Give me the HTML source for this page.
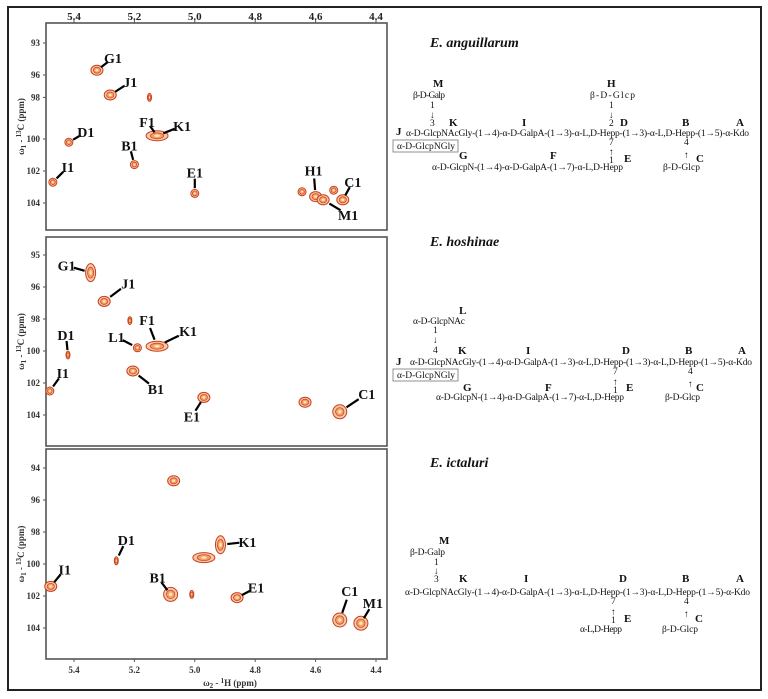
<!DOCTYPE html>
<html><head><meta charset="utf-8"><style>
html,body{margin:0;padding:0;background:#fff;}
svg{display:block;font-family:"Liberation Serif",serif;}
.tk{font-weight:bold;font-size:11px;fill:#222;}
.yt{font-weight:bold;font-size:9px;fill:#333;}
.lb{font-weight:bold;font-size:14px;fill:#111;}
.st{font-size:9.5px;fill:#111;}
.sl{font-weight:bold;font-size:11px;fill:#111;}
.ti{font-weight:bold;font-style:italic;font-size:14px;fill:#111;}
</style></head><body>
<svg id="fig" width="768" height="699" viewBox="0 0 768 699">
<rect x="8" y="7" width="753" height="683" fill="none" stroke="#222" stroke-width="2"/>
<g id="panels"></g>
<g id="axes"></g>
<g id="structs">
<text x="430" y="47" class="ti">E. anguillarum</text>
<text x="430" y="246" class="ti">E. hoshinae</text>
<text x="430" y="467" class="ti">E. ictaluri</text>
<g>
<text x="433" y="87" class="sl">M</text><text x="413" y="98" class="st" textLength="32">β-D-Galp</text>
<text x="430" y="108" class="st">1</text><text x="430" y="118" class="st">↓</text><text x="430" y="126" class="st">3</text>
<text x="449" y="126" class="sl">K</text><text x="522" y="126" class="sl">I</text>
<text x="607" y="87" class="sl">H</text><text x="590" y="98" class="st" textLength="45">β-D-Glcp</text>
<text x="609" y="108" class="st">1</text><text x="609" y="118" class="st">↓</text><text x="609" y="126" class="st">2</text>
<text x="620" y="126" class="sl">D</text><text x="682" y="126" class="sl">B</text><text x="736" y="126" class="sl">A</text>
<text x="396" y="135" class="sl">J</text>
<text x="406" y="136" class="st" textLength="343">α-D-GlcpNAcGly-(1→4)-α-D-GalpA-(1→3)-α-L,D-Hepp-(1→3)-α-L,D-Hepp-(1→5)-α-Kdo</text>
<rect x="393" y="140" width="65" height="12" fill="none" stroke="#777" stroke-width="0.8"/>
<text x="397" y="149" class="st" textLength="58">α-D-GlcpNGly</text>
<text x="609" y="145" class="st">7</text><text x="609" y="155" class="st">↑</text><text x="609" y="163" class="st">1</text>
<text x="684" y="145" class="st">4</text><text x="684" y="158" class="st">↑</text>
<text x="459" y="159" class="sl">G</text><text x="550" y="159" class="sl">F</text><text x="624" y="162" class="sl">E</text><text x="696" y="162" class="sl">C</text>
<text x="432" y="170" class="st" textLength="191">α-D-GlcpN-(1→4)-α-D-GalpA-(1→7)-α-L,D-Hepp</text>
<text x="663" y="170" class="st" textLength="37">β-D-Glcp</text>
</g>
<g>
<text x="459" y="314" class="sl">L</text><text x="413" y="324" class="st" textLength="52">α-D-GlcpNAc</text>
<text x="433" y="333" class="st">1</text><text x="433" y="343" class="st">↓</text><text x="433" y="353" class="st">4</text>
<text x="458" y="354" class="sl">K</text><text x="526" y="354" class="sl">I</text>
<text x="622" y="354" class="sl">D</text><text x="685" y="354" class="sl">B</text><text x="738" y="354" class="sl">A</text>
<text x="396" y="365" class="sl">J</text>
<text x="410" y="365" class="st" textLength="342">α-D-GlcpNAcGly-(1→4)-α-D-GalpA-(1→3)-α-L,D-Hepp-(1→3)-α-L,D-Hepp-(1→5)-α-Kdo</text>
<rect x="393" y="369" width="65" height="12" fill="none" stroke="#777" stroke-width="0.8"/>
<text x="397" y="378" class="st" textLength="58">α-D-GlcpNGly</text>
<text x="613" y="374" class="st">7</text><text x="613" y="385" class="st">↑</text><text x="613" y="393" class="st">1</text>
<text x="688" y="374" class="st">4</text><text x="688" y="387" class="st">↑</text>
<text x="463" y="391" class="sl">G</text><text x="545" y="391" class="sl">F</text><text x="626" y="391" class="sl">E</text><text x="696" y="391" class="sl">C</text>
<text x="436" y="400" class="st" textLength="188">α-D-GlcpN-(1→4)-α-D-GalpA-(1→7)-α-L,D-Hepp</text>
<text x="665" y="400" class="st" textLength="35">β-D-Glcp</text>
</g>
<g>
<text x="439" y="544" class="sl">M</text><text x="410" y="555" class="st" textLength="35">β-D-Galp</text>
<text x="434" y="565" class="st">1</text><text x="434" y="574" class="st">↓</text><text x="434" y="582" class="st">3</text>
<text x="459" y="582" class="sl">K</text><text x="524" y="582" class="sl">I</text>
<text x="619" y="582" class="sl">D</text><text x="682" y="582" class="sl">B</text><text x="736" y="582" class="sl">A</text>
<text x="405" y="595" class="st" textLength="345">α-D-GlcpNAcGly-(1→4)-α-D-GalpA-(1→3)-α-L,D-Hepp-(1→3)-α-L,D-Hepp-(1→5)-α-Kdo</text>
<text x="611" y="604" class="st">7</text><text x="611" y="615" class="st">↑</text><text x="611" y="623" class="st">1</text>
<text x="684" y="604" class="st">4</text><text x="684" y="617" class="st">↑</text>
<text x="624" y="622" class="sl">E</text><text x="695" y="622" class="sl">C</text>
<text x="580" y="632" class="st" textLength="42">α-L,D-Hepp</text>
<text x="662" y="632" class="st" textLength="36">β-D-Glcp</text>
</g>
</g>
</svg>
<script>
// ---- data ----
const xTicks = [5.4, 5.2, 5.0, 4.8, 4.6, 4.4];
const xTickLabels = ["5.4", "5.2", "5.0", "4.8", "4.6", "4.4"];
const y1TickVals = [94, 96, 97.4, 100, 102, 104];
const y1TickLabels = ["93", "96", "98", "100", "102", "104"];
const y2TickVals = [94, 96, 98, 100, 102, 104];
const y2TickLabels = ["95", "96", "98", "100", "102", "104"];
const y3TickVals = [94, 96, 98, 100, 102, 104];
const y3TickLabels = ["94", "96", "98", "100", "102", "104"];

const p1Labels = ["G1","J1","","F1/K1","D1","B1","I1","E1","","H1","M1","","C1"];
const p1H = [5.324, 5.28, 5.15, 5.125, 5.417, 5.20, 5.47, 5.0, 4.645, 4.60, 4.575, 4.54, 4.51];
const p1C = [95.7, 97.25, 97.4, 99.8, 100.2, 101.6, 102.7, 103.4, 103.3, 103.6, 103.8, 103.2, 103.8];
const p1Size = ["md","md","xs","wide","sm","sm","sm","sm","sm","md","md","sm","md"];
const p2Labels = ["G1","J1","","L1","F1/K1","D1","I1","B1","E1","","C1"];
const p2H = [5.345, 5.30, 5.215, 5.19, 5.125, 5.42, 5.48, 5.205, 4.97, 4.635, 4.52];
const p2C = [95.1, 96.9, 98.1, 99.8, 99.7, 100.25, 102.5, 101.25, 102.9, 103.2, 103.8];
const p2Size = ["tall","md","xs","sm","wide","xs","sm","md","md","md","lg"];
const p3Labels = ["","D1","I1","B1","","","K1","E1","C1","M1"];
const p3H = [5.07, 5.26, 5.477, 5.08, 5.01, 4.97, 4.915, 4.86, 4.52, 4.45];
const p3C = [94.8, 99.8, 101.4, 101.9, 101.9, 99.6, 98.8, 102.1, 103.5, 103.7];
const p3Size = ["md","xs","md","lg","xs","wide","tall","md","lg","lg"];

const NS = "http://www.w3.org/2000/svg";
const panelsG = document.getElementById("panels");
const axesG = document.getElementById("axes");
const PL = 46, PR = 387;
function xs(v){ return 74 + (5.4 - v) * 302; }
const panels = [
  {top:23, bot:230, y100:139, ppm:16, labels:p1Labels, H:p1H, C:p1C, size:p1Size, tv:y1TickVals, tl:y1TickLabels, name:"anguillarum",
   offs:[[16,-12],[20,-13],null,[[-10,-14],[25,-10]],[17,-10],[-5,-19],[15,-15],[0,-21],null,[-2,-26],[25,15],null,[10,-18]]},
  {top:237, bot:446, y100:351, ppm:16, labels:p2Labels, H:p2H, C:p2C, size:p2Size, tv:y2TickVals, tl:y2TickLabels, name:"hoshinae",
   offs:[[-24,-7],[24,-18],null,[-21,-11],[[-10,-26],[31,-15]],[-2,-20],[13,-18],[23,18],[-12,19],null,[27,-18]]},
  {top:449, bot:659, y100:564, ppm:16, labels:p3Labels, H:p3H, C:p3C, size:p3Size, tv:y3TickVals, tl:y3TickLabels, name:"ictaluri",
   offs:[null,[10,-21],[14,-17],[-13,-17],null,null,[27,-3],[19,-10],[10,-29],[12,-20]]}
];
const sizes = {xs:[2,4], sm:[4,4], md:[6,5], lg:[7,7], wide:[11,5], tall:[5,9]};

function mk(tag, attrs, parent){
  const e = document.createElementNS(NS, tag);
  for (const k in attrs) e.setAttribute(k, attrs[k]);
  parent.appendChild(e);
  return e;
}

panels.forEach((p, pi) => {
  const ys = c => p.y100 + (c - 100) * p.ppm;
  const g = mk("g", {}, panelsG);
  
  
  const fr = mk("rect", {x:PL, y:p.top, width:PR-PL, height:p.bot-p.top, fill:"#fff", stroke:"#555", "stroke-width":1.6}, g);
  
  
  p.tv.forEach((v, i) => {
    const y = ys(v);
    mk("line", {x1:PL-3, x2:PL, y1:y, y2:y, stroke:"#555", "stroke-width":1}, g);
    const t = mk("text", {x:PL-6, y:y+3, class:"yt", "text-anchor":"end"}, g);
    t.textContent = p.tl[i];
    
    
  });
  const cy = (p.top + p.bot) / 2;
  const yt = mk("text", {x:0, y:0, class:"yt", "font-size":"10", transform:`translate(24,${cy}) rotate(-90)`, "text-anchor":"middle"}, g);
  yt.innerHTML = 'ω<tspan font-size="7" dy="2">1</tspan><tspan dy="-2"> - </tspan><tspan font-size="7" dy="-3">13</tspan><tspan dy="3">C  (ppm)</tspan>';
  
  
  p.H.forEach((h, i) => {
    const x = xs(h), y = ys(p.C[i]);
    const s = sizes[p.size[i]];
    const pg = mk("g", {}, g);
    
    
    mk("ellipse", {cx:x, cy:y, rx:s[0], ry:s[1], fill:"#f6c8a8", stroke:"#c8401c", "stroke-width":1}, pg);
    mk("ellipse", {cx:x, cy:y, rx:s[0]*0.6, ry:s[1]*0.6, fill:"#f3a070", stroke:"#d04a20", "stroke-width":0.8}, pg);
    mk("ellipse", {cx:x, cy:y, rx:s[0]*0.25, ry:s[1]*0.25, fill:"#fde8b0", stroke:"none"}, pg);
    const o = p.offs[i];
    if (!o || !p.labels[i]) return;
    const names = p.labels[i].split("/");
    const list = Array.isArray(o[0]) ? o : [o];
    list.forEach((oo, k) => {
      const lx = x + oo[0], ly = y + oo[1];
      const ln = mk("line", {x1:x+oo[0]*0.25, y1:y+oo[1]*0.25, x2:x+oo[0]*0.7, y2:y+oo[1]*0.7, stroke:"#000", "stroke-width":2.2}, g);
      
      
      const t = mk("text", {x:lx, y:ly+5, class:"lb", "text-anchor":"middle"}, g);
      t.textContent = names[k];
      
      
    });
  });
  xTicks.forEach((v, i) => {
    const x = xs(v);
    if (pi === 0) {
      mk("line", {x1:x, x2:x, y1:p.top-3, y2:p.top, stroke:"#555"}, axesG);
      const t = mk("text", {x:x, y:20, class:"tk", "text-anchor":"middle"}, axesG);
      t.textContent = xTickLabels[i];
      
      
    }
    if (pi === 2) {
      mk("line", {x1:x, x2:x, y1:p.bot, y2:p.bot+3, stroke:"#555"}, axesG);
      const t = mk("text", {x:x, y:673, class:"yt", "font-size":"10", "text-anchor":"middle"}, axesG);
      t.textContent = xTickLabels[i];
      
      
    }
  });
});
const xt = mk("text", {x:230, y:686, class:"yt", "font-size":"10", "text-anchor":"middle"}, axesG);
xt.innerHTML = 'ω<tspan font-size="7" dy="2">2</tspan><tspan dy="-2"> - </tspan><tspan font-size="7" dy="-3">1</tspan><tspan dy="3">H  (ppm)</tspan>';


</script>
</body></html>
